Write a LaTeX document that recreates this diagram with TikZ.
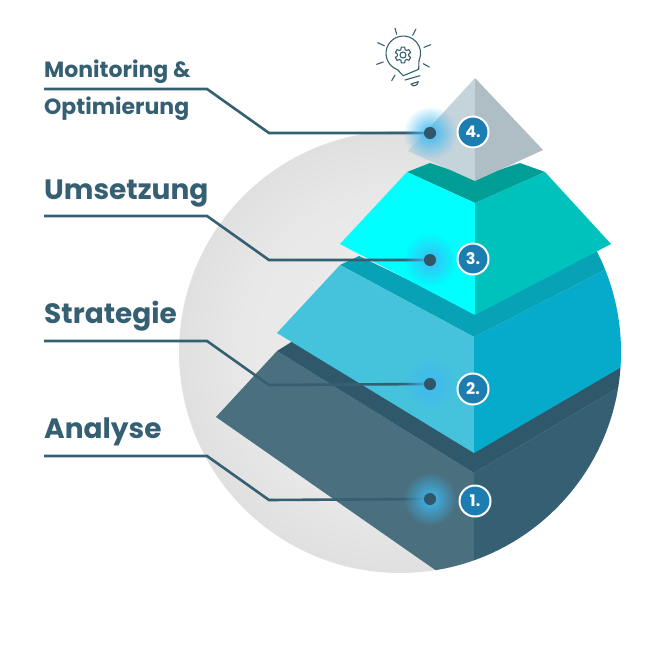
\documentclass[tikz,border=0pt]{standalone}
\usepackage{fontspec}
\setmainfont{Poppins}
\usetikzlibrary{fadings,
	shadows,
	positioning}
\definecolor{ink}{HTML}{355F72}
\definecolor{badgeblue}{HTML}{1C7EB0}
\definecolor{glowblue}{HTML}{3DB9F2}
\definecolor{stepone}{HTML}{4A6F7E}
\definecolor{steponeband}{HTML}{30586B}
\definecolor{steptwo}{HTML}{46C3DC}
\definecolor{steptworight}{HTML}{06ABCB}
\definecolor{steptwoband}{HTML}{07A2B5}
\definecolor{stepthree}{HTML}{00FFFF}
\definecolor{stepthreeright}{HTML}{00C2BC}
\definecolor{stepthreeband}{HTML}{009E94}
\definecolor{topleft}{HTML}{C5D4DB}
\definecolor{topright}{HTML}{AFBDC4}
\pgfdeclareradialshading{ballshade}{\pgfpoint{0bp}{0bp}}{color(0bp)=(black!7);color(18bp)=(black!9);color(35bp)=(black!17);color(50bp)=(black!17)}
\tikzfading[name=glowfade, inner color=transparent!0, outer color=transparent!100]
\tikzstyle{leader}=[ink, line width=2.6pt, line join=miter]
\tikzstyle{heading}=[anchor=base west, inner sep=0, text=ink, font=\fontsize{28}{28}\selectfont\bfseries]
\tikzstyle{subheading}=[heading, font=\fontsize{22}{22}\selectfont\bfseries]
\tikzstyle{marker}=[circle, fill=ink!90!black, minimum size=12pt, inner sep=0]
\tikzstyle{badge}=[circle, draw=white, line width=2pt, fill=badgeblue, text=white, minimum size=31pt, inner sep=0,
	font=\fontsize{16}{16}\selectfont\bfseries, circular drop shadow={shadow xshift=0pt, shadow yshift=-1pt, shadow scale=1.04, opacity=0.3}]
\tikzstyle{glow}=[glowblue, path fading=glowfade]
\tikzstyle{iconline}=[ink, line width=1.1pt, line cap=round, line join=round]

\begin{document}
\begin{tikzpicture}[x=1pt, y=-1pt]
	\useasboundingbox (0,0) rectangle (648,648);
	% ball
	\shade[shading=ballshade] (400,352) circle (221);

	% lower steps stay inside the ball
	\begin{scope}
		\clip (400,352) circle (221);
		\fill[stepone] (216,417) -- (277,351) -- (474,473) -- (474,597) -- cycle;
		\fill[ink] (474,473) -- (630,381) -- (630,600) -- (474,600) -- cycle;
		\fill[steponeband] (277,351) -- (293,341) -- (474,450) -- (630,362) -- (630,381) -- (474,473) -- cycle;
		\fill[steptwoband] (340,265) -- (359,256) -- (475,312) -- (595,249) -- (630,257) -- (474,337) -- cycle;
		\fill[steptwo] (277,333) -- (340,265) -- (474,337) -- (474,453) -- cycle;
		\fill[steptworight] (474,337) -- (630,257) -- (630,362) -- (474,453) -- cycle;
	\end{scope}
	% step three
	\fill[stepthreeband] (407,172) -- (430,163) -- (475,178) -- (520,163) -- (545,172) -- (475,203) -- cycle;
	\fill[stepthree] (340,244) -- (407,172) -- (475,203) -- (475,315) -- cycle;
	\fill[stepthreeright] (475,203) -- (545,172) -- (611,244) -- (475,315) -- cycle;
	% top
	\fill[topleft] (475,78) -- (408,151) -- (475,181) -- cycle;
	\fill[topright] (475,78) -- (543,150) -- (475,181) -- cycle;

	% icon
	\draw[iconline] (403.3,75.7) -- (397.4,69.6) arc[start angle=110, end angle=385, radius=17.3] -- (418.7,69.3) -- cycle;
	\draw[iconline] (405,80) -- (420,75.7);
	\draw[iconline] (411,84) -- (418.3,81.7) .. controls (418,85) and (413,88) .. (411,84);
	\draw[iconline] (395,28.3) -- (396.7,34.3);
	\draw[iconline] (416,29) -- (412.7,35.3);
	\draw[iconline] (377.7,42.7) -- (384.3,45.7);
	\draw[iconline] (430.7,44.7) -- (424,47.3);
	\draw[iconline] (376.7,64.3) -- (383.3,62);
	\draw[iconline] (429.3,67) -- (423.3,63.7);
	\draw[iconline] (391.7,80.7) -- (395,75);
	\begin{scope}[shift={(403,55)}]
		\draw[iconline] (3,0) arc[start angle=0, end angle=360, radius=3];
		\draw[iconline] (8:6) \foreach \a in {30,90,...,330} { -- (\a-22:5.7) -- (\a-12:8) -- (\a+12:8) -- (\a+22:5.7)} -- cycle;
	\end{scope}

	% labels
	\node[subheading] (monitoring) at (44,77) {Monitoring \&};
	\node[subheading] (optimierung) at (44,114) {Optimierung};
	\node[heading] (umsetzung) at (44,199) {Umsetzung};
	\node[heading] (strategie) at (44,323) {Strategie};
	\node[heading] (analyse) at (44,438) {Analyse};

	% markers and number badges
	\foreach \n/\y/\bx/\by/\rule in {4/133/473/132/89, 3/260/473/259/216, 2/384/473/389/341, 1/499/475/501/456} {
		\coordinate (rule\n) at (44,\rule);
		\node[marker] (marker\n) at (430,\y) {};
		\draw[leader] (rule\n) -- ++(163,0) -- ++(62,44) -- (marker\n);
		\fill[glow] (430,\y) circle (27);
		\node[marker] at (marker\n) {};
		\node[badge] (badge\n) at (\bx,\by) {\n.};
	}
\end{tikzpicture}
\end{document}
